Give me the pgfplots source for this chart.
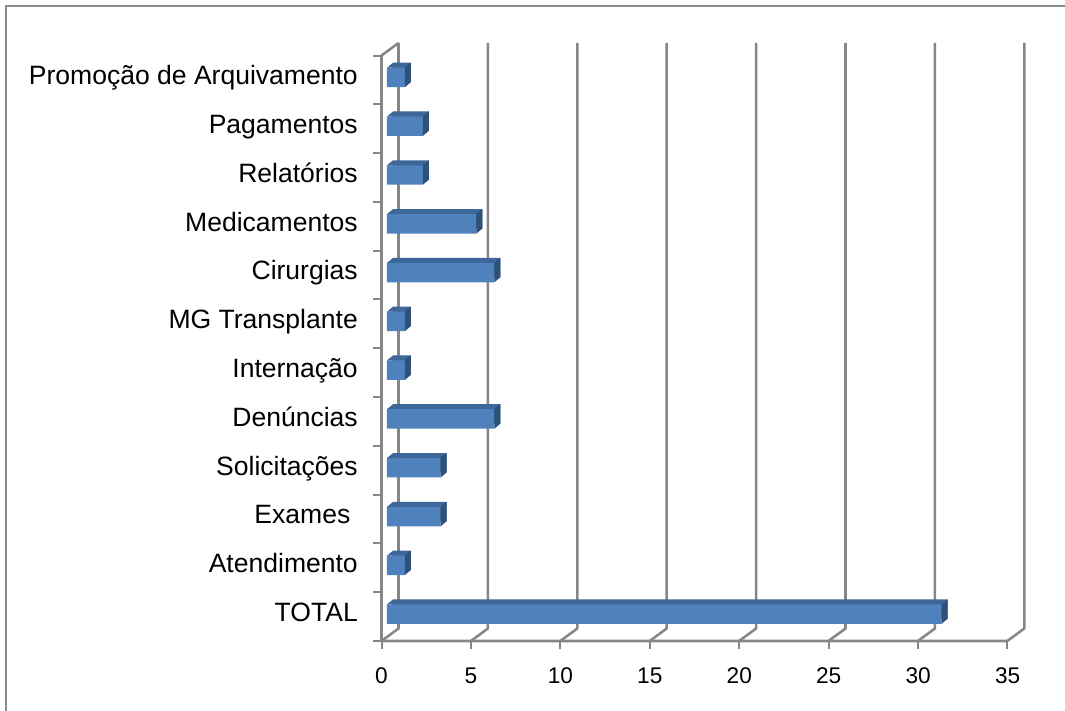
\documentclass[border=0pt]{standalone}
\usepackage{pgfplots}
\usepackage{pgfplotstable}
\pgfplotsset{compat=1.18}
\usepackage{fontspec}
\setmainfont{Liberation Sans}
\definecolor{frontc}{HTML}{4F81BD}
\definecolor{topc}{HTML}{3D6699}
\definecolor{sidec}{HTML}{2E5079}
\definecolor{gridc}{HTML}{868686}
\definecolor{framec}{HTML}{8C8C8C}
\pgfdeclareplotmark{sideface}{%
  \pgfpathmoveto{\pgfqpoint{0pt}{-7.3pt}}%
  \pgfpathlineto{\pgfqpoint{4.5pt}{-3.55pt}}%
  \pgfpathlineto{\pgfqpoint{4.5pt}{11.05pt}}%
  \pgfpathlineto{\pgfqpoint{0pt}{7.3pt}}%
  \pgfpathclose\pgfusepathqfill}
\pgfdeclareplotmark{topnotch}{%
  \pgfpathmoveto{\pgfqpoint{0pt}{7.3pt}}%
  \pgfpathlineto{\pgfqpoint{4.6pt}{11.05pt}}%
  \pgfpathlineto{\pgfqpoint{4.6pt}{7.3pt}}%
  \pgfpathclose\pgfusepathqfill}
\pgfplotstableread{
idx val
0 31
1 1
2 3
3 3
4 6
5 1
6 1
7 6
8 5
9 2
10 2
11 1
}\datatable
\begin{document}
\begin{tikzpicture}
\begin{scope}[x=0.75pt,y=-0.75pt,yshift=533.25pt]
\useasboundingbox (0,0) rectangle (1065,711);
\draw[framec, line width=1.1pt] (6,711) -- (6,6) -- (1065,6);
\foreach \k in {0,...,7} {
  \draw[gridc, line width=1.9pt, line join=round] ({381.5+89.4*\k},641) -- ({398.5+89.4*\k},628.5) -- ({398.5+89.4*\k},43);
  \draw[gridc, line width=1.5pt] ({381.5+89.4*\k},641) -- ({381.5+89.4*\k},649);
}
\foreach \k in {0,...,12} {
  \draw[gridc, line width=1.5pt] (373,{641-48.79*\k}) -- (381.5,{641-48.79*\k});
}
\draw[gridc, line width=1.9pt, line join=round] (1007.3,641) -- (381.5,641) -- (381.5,55.5) -- (398.5,43);
\end{scope}
\begin{axis}[
  at={(286.125pt,52.5pt)}, anchor=south west,
  scale only axis, width=469.6pt, height=439.1pt,
  xmin=0, xmax=35, ymin=-0.5, ymax=11.5,
  axis x line*=bottom, axis y line*=left, axis line style={draw=none},
  xtick={0,5,...,35}, ytick={0,...,11},
  yticklabels={TOTAL, Atendimento, {Exames\hspace*{0.28em}}, Solicitações, Denúncias, Internação, MG Transplante, Cirurgias, Medicamentos, Relatórios, Pagamentos, Promoção de Arquivamento},
  major tick length=0pt, tick style={draw=none},
  xticklabel style={font=\fontsize{17}{20}\selectfont, anchor=base, inner sep=0pt, yshift=-32.25pt},
  yticklabel style={font=\fontsize{19.9}{23}\selectfont, anchor=base east, inner sep=0pt, xshift=-17.6pt, yshift=-0.358em},
  /pgf/number format/assume math mode=true,
  clip=false,
]
\addplot[xbar, bar shift=0pt, bar width=14.6pt, fill=topc, draw=none, xshift=8.625pt, yshift=5.625pt] table[x=val, y=idx] {\datatable};
\addplot[only marks, mark=topnotch, color=topc, mark options={fill=topc, draw=none}, xshift=4.125pt, yshift=1.875pt] table[x expr=0, y=idx] {\datatable};
\addplot[only marks, mark=sideface, color=sidec, mark options={fill=sidec, draw=none}, xshift=4.125pt, yshift=1.875pt] table[x=val, y=idx] {\datatable};
\addplot[xbar, bar shift=0pt, bar width=14.6pt, fill=frontc, draw=none, xshift=4.125pt, yshift=1.875pt] table[x=val, y=idx] {\datatable};
\end{axis}
\end{tikzpicture}
\end{document}
